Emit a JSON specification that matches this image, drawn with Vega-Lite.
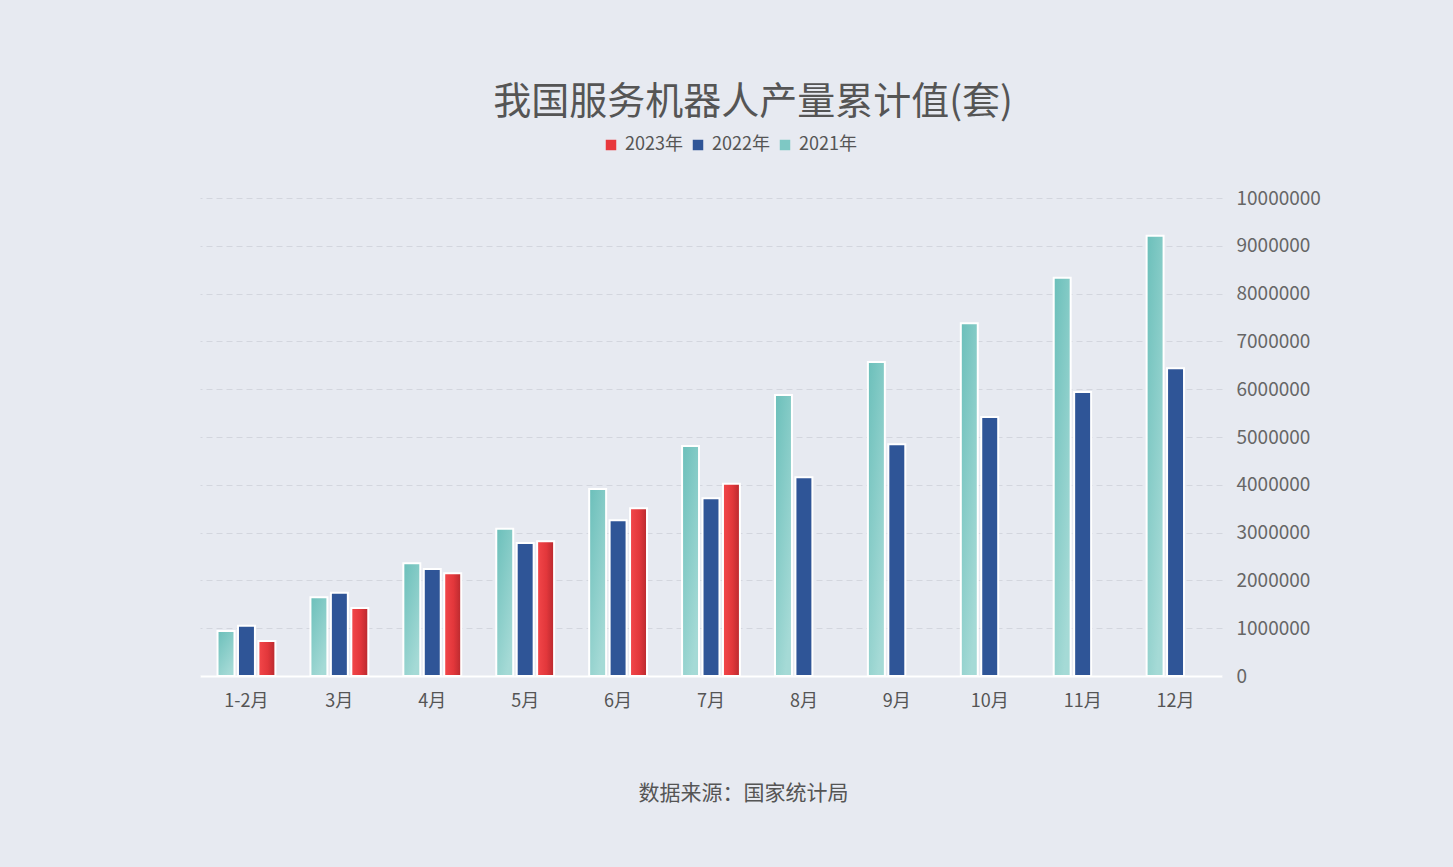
{
  "$schema": "https://vega.github.io/schema/vega-lite/v6.json",
  "autosize": {"type": "none"},
  "width": 1022,
  "height": 478,
  "padding": {"left": 200, "top": 198, "right": 231, "bottom": 191},
  "background": "#e7eaf1",
  "title": {
    "text": "我国服务机器人产量累计值(套)",
    "anchor": "middle",
    "dx": 42,
    "offset": 14,
    "fontSize": 38,
    "fontWeight": "normal",
    "color": "#555555",
    "font": "Noto Sans CJK SC"
  },
  "config": {
    "view": {"stroke": null},
    "font": "Noto Sans CJK SC",
    "axis": {"labelFont": "Noto Sans CJK SC", "titleFont": "Noto Sans CJK SC"},
    "legend": {"labelFont": "Noto Sans CJK SC"}
  },
  "data": {
    "values": [
      {"month": "1-2月", "year": "2021年", "value": 940000},
      {"month": "1-2月", "year": "2022年", "value": 1050000},
      {"month": "1-2月", "year": "2023年", "value": 730000},
      {"month": "3月", "year": "2021年", "value": 1650000},
      {"month": "3月", "year": "2022年", "value": 1740000},
      {"month": "3月", "year": "2023年", "value": 1420000},
      {"month": "4月", "year": "2021年", "value": 2360000},
      {"month": "4月", "year": "2022年", "value": 2240000},
      {"month": "4月", "year": "2023年", "value": 2150000},
      {"month": "5月", "year": "2021年", "value": 3080000},
      {"month": "5月", "year": "2022年", "value": 2780000},
      {"month": "5月", "year": "2023年", "value": 2820000},
      {"month": "6月", "year": "2021年", "value": 3910000},
      {"month": "6月", "year": "2022年", "value": 3260000},
      {"month": "6月", "year": "2023年", "value": 3510000},
      {"month": "7月", "year": "2021年", "value": 4810000},
      {"month": "7月", "year": "2022年", "value": 3720000},
      {"month": "7月", "year": "2023年", "value": 4020000},
      {"month": "8月", "year": "2021年", "value": 5880000},
      {"month": "8月", "year": "2022年", "value": 4160000},
      {"month": "9月", "year": "2021年", "value": 6570000},
      {"month": "9月", "year": "2022年", "value": 4850000},
      {"month": "10月", "year": "2021年", "value": 7380000},
      {"month": "10月", "year": "2022年", "value": 5420000},
      {"month": "11月", "year": "2021年", "value": 8330000},
      {"month": "11月", "year": "2022年", "value": 5940000},
      {"month": "12月", "year": "2021年", "value": 9210000},
      {"month": "12月", "year": "2022年", "value": 6440000}
    ]
  },
  "encoding": {
    "x": {
      "field": "month",
      "type": "nominal",
      "sort": null,
      "scale": {"paddingInner": 0.34, "paddingOuter": 0.17},
      "axis": {
        "labelAngle": 0,
        "labelFontSize": 18,
        "labelColor": "#555555",
        "labelPadding": 16,
        "ticks": false,
        "domainColor": "#ffffff",
        "domainWidth": 2,
        "title": "数据来源：国家统计局",
        "titleFontSize": 21,
        "titleFontWeight": "normal",
        "titleColor": "#555555",
        "titlePadding": 72,
        "titleX": 543
      }
    },
    "xOffset": {
      "field": "year",
      "type": "nominal",
      "scale": {"domain": ["2021年", "2022年", "2023年"], "paddingInner": 0.17, "paddingOuter": 0.085}
    },
    "y": {
      "field": "value",
      "type": "quantitative",
      "scale": {"domain": [0, 10000000], "nice": false},
      "axis": {
        "orient": "right",
        "title": null,
        "values": [0, 1000000, 2000000, 3000000, 4000000, 5000000, 6000000, 7000000, 8000000, 9000000, 10000000],
        "format": "d",
        "labelFontSize": 19,
        "labelColor": "#666666",
        "labelPadding": 14,
        "ticks": false,
        "domain": false,
        "grid": true,
        "gridColor": "#d3d6de",
        "gridDash": [6, 4],
        "gridWidth": 1
      }
    }
  },
  "layer": [
    {
      "mark": {"type": "bar"},
      "encoding": {
        "fill": {
          "field": "year",
          "type": "nominal",
          "scale": {"domain": ["2023年", "2022年", "2021年"], "range": ["#e8383d", "#2f5597", "#7ec8c4"]},
          "legend": {
            "title": null,
            "orient": "none",
            "direction": "horizontal",
            "legendX": 402,
            "legendY": -62,
            "symbolType": "square",
            "symbolSize": 110,
            "symbolStrokeWidth": 0,
            "labelFontSize": 18,
            "labelColor": "#555555",
            "columnPadding": 6,
            "labelOffset": 5
          }
        }
      }
    },
    {
      "mark": {"type": "bar", "stroke": "#ffffff", "strokeWidth": 2},
      "encoding": {
        "fill": {
          "condition": [
            {"test": "datum.year === '2023年'", "value": {"gradient": "linear", "x1": 0, "y1": 0, "x2": 1, "y2": 0, "stops": [{"offset": 0, "color": "#f3474a"}, {"offset": 0.55, "color": "#e2373b"}, {"offset": 1, "color": "#b8292e"}]}},
            {"test": "datum.year === '2022年'", "value": "#2f5597"}
          ],
          "value": {"gradient": "linear", "x1": 0, "y1": 0, "x2": 0.6, "y2": 1, "stops": [{"offset": 0, "color": "#6bbfba"}, {"offset": 1, "color": "#a5dad6"}]}
        }
      }
    }
  ]
}
